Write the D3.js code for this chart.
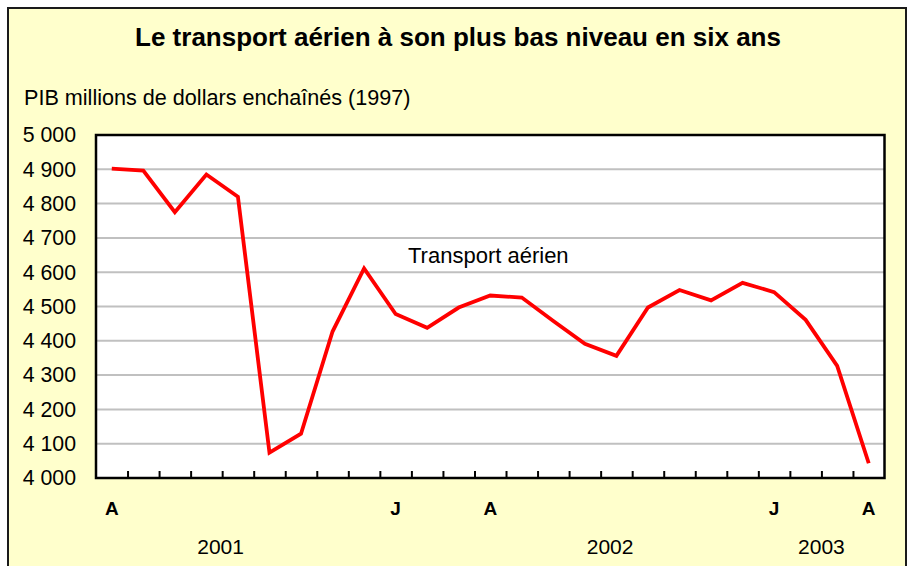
<!DOCTYPE html>
<html>
<head>
<meta charset="utf-8">
<script src="https://cdn.jsdelivr.net/npm/d3@7"></script>
<style>
  html, body { margin: 0; padding: 0; background: #fff; }
  svg { display: block; font-family: Arial, "Liberation Sans", sans-serif; }
</style>
</head>
<body>
<svg width="909" height="566"></svg>
<script>
// months from avril 2001 to avril 2003
var months = ["2001-04", "2001-05", "2001-06", "2001-07", "2001-08", "2001-09", "2001-10", "2001-11", "2001-12",
              "2002-01", "2002-02", "2002-03", "2002-04", "2002-05", "2002-06", "2002-07", "2002-08", "2002-09",
              "2002-10", "2002-11", "2002-12", "2003-01", "2003-02", "2003-03", "2003-04"];
var transportAerien = [4902, 4896, 4775, 4885, 4820, 4074, 4129, 4427, 4611, 4478, 4438, 4497, 4532,
                       4526, 4458, 4391, 4356, 4497, 4548, 4518, 4569, 4542, 4461, 4327, 4043];
var monthLabels = [{month: "2001-04", label: "A"}, {month: "2002-01", label: "J"}, {month: "2002-04", label: "A"},
                   {month: "2003-01", label: "J"}, {month: "2003-04", label: "A"}];
// year labels, anchored at a (fractional) month index
var yearLabels = [{year: "2001", at: 3.45}, {year: "2002", at: 15.8}, {year: "2003", at: 22.5}];
var yTicks = [4000, 4100, 4200, 4300, 4400, 4500, 4600, 4700, 4800, 4900, 5000];

var title = "Le transport aérien à son plus bas niveau en six ans",
    yTitle = "PIB millions de dollars enchaînés (1997)",
    seriesName = "Transport aérien";

var svg = d3.select("svg"),
    margin = {top: 135, right: 24.5, bottom: 88, left: 96},
    width = +svg.attr("width") - margin.left - margin.right,
    height = +svg.attr("height") - margin.top - margin.bottom;

var fr = d3.formatLocale({decimal: ",", thousands: " ", grouping: [3], currency: ["", " $"]}),
    fmt = fr.format(",d");

// background frame
svg.append("rect")
    .attr("x", 8).attr("y", 8)
    .attr("width", 898).attr("height", 600)
    .attr("fill", "#FFFFCC")
    .attr("stroke", "#1a1a1a")
    .attr("stroke-width", 2);

svg.append("text")
    .attr("x", 458).attr("y", 46)
    .attr("text-anchor", "middle")
    .attr("font-size", 26)
    .attr("font-weight", "bold")
    .text(title);

svg.append("text")
    .attr("x", 24).attr("y", 105)
    .attr("font-size", 21.6)
    .text(yTitle);

var x = d3.scaleBand().domain(months).range([0, width]).padding(0),
    xi = d3.scaleLinear().domain([0, months.length]).range([0, width]),
    y = d3.scaleLinear().domain([4000, 5000]).range([height, 0]);

var g = svg.append("g").attr("transform", "translate(" + margin.left + "," + margin.top + ")");

g.append("rect")
    .attr("width", width).attr("height", height)
    .attr("fill", "#fff");

// grid
g.append("g")
    .selectAll("line")
    .data(yTicks.slice(1, -1))
    .enter().append("line")
    .attr("x1", 0).attr("x2", width)
    .attr("y1", function(d) { return y(d); })
    .attr("y2", function(d) { return y(d); })
    .attr("stroke", "#C0C0C0")
    .attr("stroke-width", 2);

// inward ticks between months
var xAxis = g.append("g")
    .attr("transform", "translate(0," + height + ")")
    .call(d3.axisBottom(xi).tickValues(d3.range(1, months.length)).tickSize(-7).tickFormat(""));
xAxis.select(".domain").remove();
xAxis.selectAll("line").attr("stroke", "#000").attr("stroke-width", 2);

// y labels
var yAxis = g.append("g")
    .call(d3.axisLeft(y).tickValues(yTicks).tickSize(0).tickPadding(20).tickFormat(fmt));
yAxis.select(".domain").remove();
yAxis.selectAll("text").attr("font-size", 21.3).attr("fill", "#000").attr("font-family", null);

var line = d3.line()
    .x(function(d, i) { return x(months[i]) + x.bandwidth() / 2; })
    .y(function(d) { return y(d); });

g.append("path")
    .datum(transportAerien)
    .attr("fill", "none")
    .attr("stroke", "#FF0000")
    .attr("stroke-width", 3.8)
    .attr("stroke-linejoin", "miter")
    .attr("d", line);

g.append("rect")
    .attr("width", width).attr("height", height)
    .attr("fill", "none")
    .attr("stroke", "#000")
    .attr("stroke-width", 2.5);

g.append("text")
    .attr("x", 312).attr("y", 128)
    .attr("font-size", 22)
    .text(seriesName);

g.selectAll(".mlab")
    .data(monthLabels)
    .enter().append("text")
    .attr("class", "mlab")
    .attr("x", function(d) { return x(d.month) + x.bandwidth() / 2; })
    .attr("y", height + 37)
    .attr("text-anchor", "middle")
    .attr("font-size", 19)
    .attr("font-weight", "bold")
    .text(function(d) { return d.label; });

g.selectAll(".ylab")
    .data(yearLabels)
    .enter().append("text")
    .attr("class", "ylab")
    .attr("x", function(d) { return xi(d.at + 0.5); })
    .attr("y", height + 76)
    .attr("text-anchor", "middle")
    .attr("font-size", 21)
    .text(function(d) { return d.year; });
</script>
</body>
</html>
